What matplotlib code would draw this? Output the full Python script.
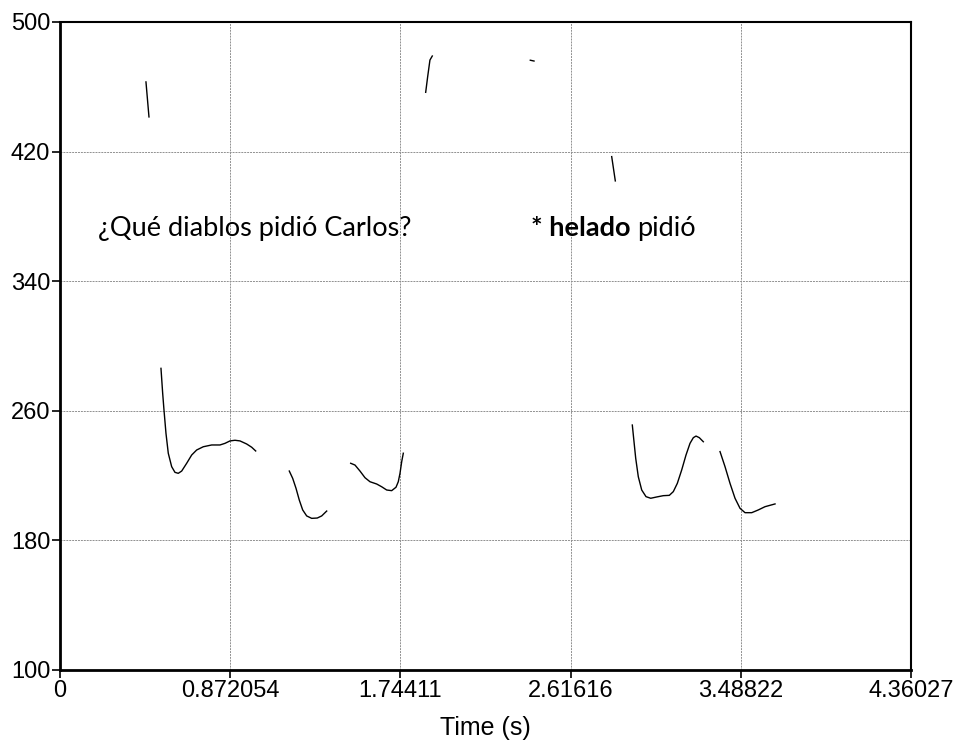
import matplotlib.pyplot as plt
from matplotlib import font_manager

# Pitch track segments (time in s, F0 in Hz)
seg1_t = [0.4406, 0.4560]
seg1_f = [463.0, 441.4]

seg2_t = [0.5175, 0.5262, 0.5329, 0.5431, 0.5549, 0.5723, 0.5892, 0.6061, 0.6236, 0.6492,
          0.6748, 0.7004, 0.7342, 0.7773, 0.8198, 0.8454, 0.8711, 0.8967, 0.9223, 0.9566,
          0.9822, 1.0027]
seg2_f = [286.2, 270.8, 260.5, 246.1, 233.8, 225.5, 222.0, 221.4, 222.8, 227.6,
          232.7, 235.8, 237.8, 238.9, 238.9, 239.9, 241.4, 241.8, 241.4, 239.5,
          237.5, 235.2]

seg3_t = [1.1749, 1.1923, 1.2092, 1.2261, 1.2435, 1.2640, 1.2896, 1.3183, 1.3409, 1.3665]
seg3_f = [222.8, 218.3, 212.2, 204.9, 198.8, 195.1, 193.6, 193.8, 195.1, 198.1]

seg4_t = [1.4895, 1.5115, 1.5371, 1.5627, 1.5884, 1.6227, 1.6483, 1.6739, 1.6995, 1.7216,
          1.7333, 1.7421, 1.7508, 1.7590]
seg4_f = [227.6, 226.5, 222.8, 218.7, 216.2, 214.8, 213.1, 211.1, 210.7, 212.8,
          216.2, 221.4, 228.6, 233.8]

seg5_t = [1.8737, 1.8838, 1.8955, 1.9075]
seg5_f = [456.6, 466.2, 476.5, 479.0]

seg6_t = [2.4097, 2.4287]
seg6_f = [476.4, 475.9]

seg7_t = [2.8267, 2.8452]
seg7_f = [416.9, 401.9]

seg8_t = [2.9323, 2.9410, 2.9497, 2.9630, 2.9805, 3.0025, 3.0266, 3.0573, 3.0911, 3.1219,
          3.1424, 3.1629, 3.1854, 3.2074, 3.2279, 3.2449, 3.2587, 3.2756, 3.2961]
seg8_f = [251.2, 240.9, 230.7, 219.3, 211.1, 207.0, 206.0, 206.8, 207.6, 207.8,
          210.1, 215.2, 223.5, 232.7, 239.9, 243.4, 244.4, 243.4, 240.9]

seg9_t = [3.3817, 3.4073, 3.4329, 3.4585, 3.4841, 3.5098, 3.5441, 3.5779, 3.6122, 3.6635]
seg9_f = [234.8, 225.5, 215.2, 206.0, 199.8, 197.1, 197.1, 198.8, 200.8, 202.5]

segments = [(seg1_t, seg1_f), (seg2_t, seg2_f), (seg3_t, seg3_f), (seg4_t, seg4_f),
            (seg5_t, seg5_f), (seg6_t, seg6_f), (seg7_t, seg7_f), (seg8_t, seg8_f),
            (seg9_t, seg9_f)]

x_ticks = [0, 0.872054, 1.74411, 2.61616, 3.48822, 4.36027]
x_labels = ['0', '0.872054', '1.74411', '2.61616', '3.48822', '4.36027']
y_ticks = [100, 180, 260, 340, 420, 500]

installed = {f.name for f in font_manager.fontManager.ttflist}
tick_font = 'Liberation Sans Narrow' if 'Liberation Sans Narrow' in installed else 'Liberation Sans'
text_font = ['Lato', 'DejaVu Sans']

fig = plt.figure(figsize=(9.61, 7.48), dpi=100)
ax = fig.add_axes([0.0624, 0.1043, 0.8856, 0.8663])

for t, f in segments:
    ax.plot(t, f, color='black', linewidth=1.0, solid_joinstyle='round')

ax.set_xlim(0, 4.36027)
ax.set_ylim(100, 500)
ax.set_xticks(x_ticks)
ax.set_xticklabels(x_labels)
ax.set_yticks(y_ticks)
ax.grid(True, color='#909090', linestyle=(0, (2, 1)), linewidth=0.7)

for lab in ax.get_xticklabels() + ax.get_yticklabels():
    lab.set_fontfamily(tick_font)
    lab.set_fontsize(17)
ax.tick_params(direction='out', length=6, width=1.2, pad=1)
for s in ax.spines.values():
    s.set_linewidth(1.5)
ax.spines['left'].set_linewidth(2)
ax.spines['bottom'].set_linewidth(2)

ax.set_xlabel('Time (s)', fontfamily=tick_font, fontsize=18, labelpad=10)

ax.text(0.195, 372.8, '¿Qué diablos pidió Carlos?', fontfamily=text_font,
        fontsize=19.5, va='center', ha='left')
ax.text(2.413, 372.8, '* helado', fontfamily=text_font, fontsize=19.5,
        fontweight='bold', va='center', ha='left')
ax.text(2.956, 372.8, 'pidió', fontfamily=text_font, fontsize=19.5,
        va='center', ha='left')

fig.savefig('out.png', dpi=100)
